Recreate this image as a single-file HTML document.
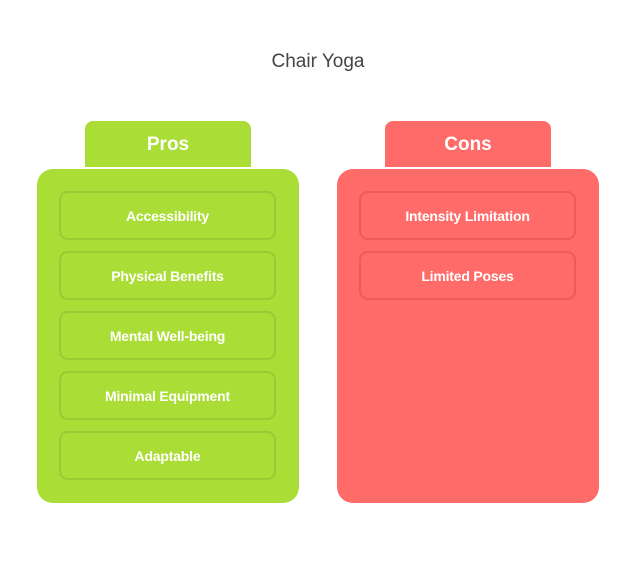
<!DOCTYPE html>
<html><head><style>
body{margin:0;width:636px;height:576px;background:#fff;font-family:"Liberation Sans",sans-serif;position:relative;overflow:hidden}
.t{position:absolute;top:51px;left:0;width:636px;text-align:center;font-size:19px;color:#444}
.tab{position:absolute;top:121px;width:166px;height:46px;border-radius:8px 8px 0 0;color:#fff;font-weight:bold;font-size:19px;text-align:center;line-height:48px}
.box{position:absolute;top:169px;width:262px;height:334px;border-radius:16px}
.it{position:absolute;left:22px;width:213px;height:45px;border-radius:9px;color:#fff;font-size:14px;font-weight:bold;text-align:center;line-height:47px;letter-spacing:-0.2px}
.g{background:#aadd36}.g .it{border:2px solid #9cc832}
.r{background:#ff6b68}.r .it{border:2px solid #eb5b58}
</style></head><body>
<div class="t">Chair Yoga</div>
<div class="tab g" style="left:85px">Pros</div>
<div class="box g" style="left:37px">
<div class="it" style="top:22px">Accessibility</div>
<div class="it" style="top:82px">Physical Benefits</div>
<div class="it" style="top:142px">Mental Well-being</div>
<div class="it" style="top:202px">Minimal Equipment</div>
<div class="it" style="top:262px">Adaptable</div>
</div>
<div class="tab r" style="left:385px">Cons</div>
<div class="box r" style="left:337px">
<div class="it" style="top:22px">Intensity Limitation</div>
<div class="it" style="top:82px">Limited Poses</div>
</div>
</body></html>
